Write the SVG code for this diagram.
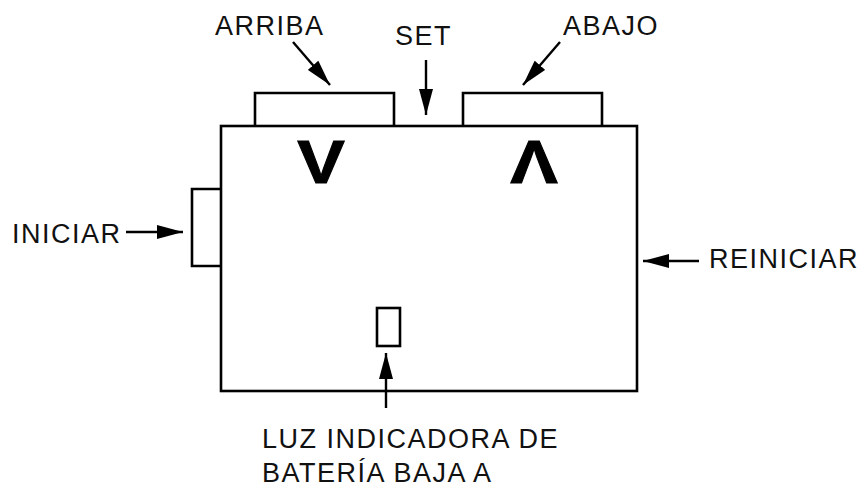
<svg xmlns="http://www.w3.org/2000/svg" width="861" height="487" viewBox="0 0 861 487">
<style>
.ln{fill:none;stroke:#000;stroke-width:2.6}
.ar{fill:none;stroke:#000;stroke-width:2.4;marker-end:url(#ah)}
.lbl{font-family:"Liberation Sans",Arial,sans-serif;font-size:27px;letter-spacing:1.5px;fill:#111}
.sym{font-family:"Liberation Sans",Arial,sans-serif;font-size:62px;font-weight:bold;fill:#000;stroke:#000;stroke-width:1}
</style>
<defs>
<marker id="ah" markerUnits="userSpaceOnUse" markerWidth="26" markerHeight="14" refX="26" refY="7" orient="auto">
<path d="M0,0 L26,7 L0,14 z" fill="#000"/>
</marker>
</defs>
<rect width="861" height="487" fill="#fff"/>
<g id="device">
<rect class="ln" x="221" y="126" width="416" height="265"/>
<text class="sym" text-anchor="middle" transform="translate(321,183) scale(1.15,1)">V</text>
<text class="sym" text-anchor="middle" transform="translate(534,183) scale(1.15,1)">Λ</text>
</g>
<g id="btn-arriba"><path class="ln" d="M255,126 V93 H394 V126"/></g>
<g id="btn-abajo"><path class="ln" d="M463,126 V93 H602 V126"/></g>
<g id="btn-iniciar"><path class="ln" d="M221,189 H192 V266 H221"/></g>
<g id="led"><rect class="ln" x="377" y="308" width="23" height="38"/></g>
<g id="labels">
<text class="lbl" x="215" y="35">ARRIBA</text>
<text class="lbl" x="395" y="45">SET</text>
<text class="lbl" x="563" y="35">ABAJO</text>
<text class="lbl" x="12" y="243">INICIAR</text>
<text class="lbl" x="709" y="268">REINICIAR</text>
<text class="lbl" x="262" y="448">LUZ INDICADORA DE</text>
<text class="lbl" x="262" y="482">BATERÍA BAJA A</text>
</g>
<g id="connectors">
<line class="ar" x1="293" y1="42" x2="330" y2="85"/>
<line class="ar" x1="426" y1="60" x2="426" y2="115"/>
<line class="ar" x1="560" y1="42" x2="523" y2="85"/>
<line class="ar" x1="126" y1="232" x2="183" y2="232"/>
<line class="ar" x1="699" y1="261" x2="643" y2="261"/>
<line class="ar" x1="386" y1="408" x2="386" y2="353"/>
</g>
</svg>
